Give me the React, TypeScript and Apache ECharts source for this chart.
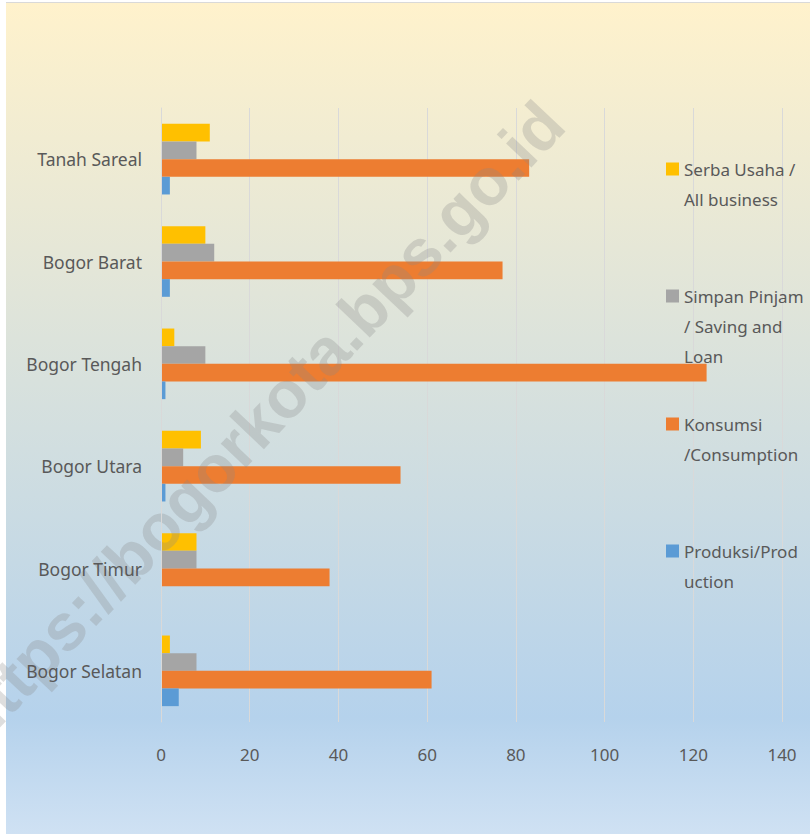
import React, { useEffect, useRef } from "react";
import * as echarts from "echarts";

const categories = ["Bogor Selatan", "Bogor Timur", "Bogor Utara", "Bogor Tengah", "Bogor Barat", "Tanah Sareal"];
const serbaUsaha = [2, 8, 9, 3, 10, 11];
const simpanPinjam = [8, 8, 5, 10, 12, 8];
const konsumsi = [61, 38, 54, 123, 77, 83];
const produksi = [4, 0, 1, 1, 2, 2];
const xTicks = [0, 20, 40, 60, 80, 100, 120, 140];

const seriesNames = [
  "Serba Usaha / All business",
  "Simpan Pinjam / Saving and Loan",
  "Konsumsi /Consumption",
  "Produksi/Production",
];
const legendTexts = [
  "\nSerba Usaha /\nAll business",
  "\n\nSimpan Pinjam\n/ Saving and\nLoan",
  "\nKonsumsi\n/Consumption",
  "\nProduksi/Prod\nuction",
];
const legendTops = [124, 221, 379, 506];
const colors = ["#FFC000", "#A5A5A5", "#ED7D31", "#5B9BD5"];
const seriesValues = [serbaUsaha, simpanPinjam, konsumsi, produksi];

const FONT = "Noto Sans";
const TEXT_COLOR = "#595959";

export default function App() {
  const ref = useRef<HTMLDivElement>(null);
  useEffect(() => {
    if (!ref.current) return;
    const chart = echarts.init(ref.current, null, { renderer: "svg" });
    chart.setOption({
      animation: false,
      backgroundColor: "#ffffff",
      textStyle: { fontFamily: FONT },
      graphic: [
        {
          type: "rect",
          z: -10,
          silent: true,
          shape: { x: 6, y: 3, width: 804, height: 831 },
          style: {
            fill: new echarts.graphic.LinearGradient(0, 0, 0, 1, [
              { offset: 0, color: "#FFF2CC" },
              { offset: 0.86, color: "#B5D2EC" },
              { offset: 1, color: "#CFE1F3" },
            ]),
          },
        },
        {
          type: "line",
          z: -9,
          silent: true,
          shape: { x1: 6, y1: 2.5, x2: 810, y2: 2.5 },
          style: { stroke: "#D9D9D9", lineWidth: 1 },
        },
        {
          type: "text",
          z: 5,
          silent: true,
          x: 258,
          y: 422,
          rotation: (46.5 * Math.PI) / 180,
          style: {
            text: "https://bogorkota.bps.go.id",
            fontFamily: "Liberation Sans",
            fontWeight: "bold",
            fontSize: 66,
            fill: "rgba(135,135,135,0.28)",
            align: "center",
            verticalAlign: "middle",
          },
        },
      ],
      legend: seriesNames.map((name, i) => ({
        data: [name],
        left: 666,
        top: legendTops[i],
        padding: 0,
        itemWidth: 13,
        itemHeight: 13,
        icon: "rect",
        selectedMode: false,
        formatter: () => legendTexts[i],
        textStyle: { fontFamily: FONT, fontSize: 17, color: TEXT_COLOR, lineHeight: 30 },
      })),
      grid: { left: 161, right: 28, top: 108, bottom: 112, containLabel: false },
      xAxis: {
        type: "value",
        min: 0,
        max: 140,
        interval: 20,
        axisLine: { show: false },
        axisTick: { show: false },
        splitLine: { show: true, lineStyle: { color: "#D9D9D9", width: 1 } },
        axisLabel: {
          margin: 24,
          fontFamily: FONT,
          fontSize: 17,
          color: TEXT_COLOR,
          formatter: (v: number) => (xTicks.includes(v) ? String(v) : ""),
        },
      },
      yAxis: {
        type: "category",
        z: 10,
        data: categories,
        axisLine: { show: true, lineStyle: { color: "#D9D9D9", width: 1 } },
        axisTick: { show: false },
        axisLabel: { margin: 19, fontFamily: FONT, fontSize: 17.5, color: TEXT_COLOR },
      },
      series: seriesNames.map((name, i) => ({
        name,
        type: "bar",
        z: 2,
        data: seriesValues[i],
        barGap: "0%",
        barCategoryGap: "31%",
        itemStyle: { color: colors[i] },
      })),
    });
    return () => chart.dispose();
  }, []);
  return (
    <div
      ref={ref}
      style={{ position: "fixed", left: 0, top: 0, width: 810, height: 834 }}
    />
  );
}
